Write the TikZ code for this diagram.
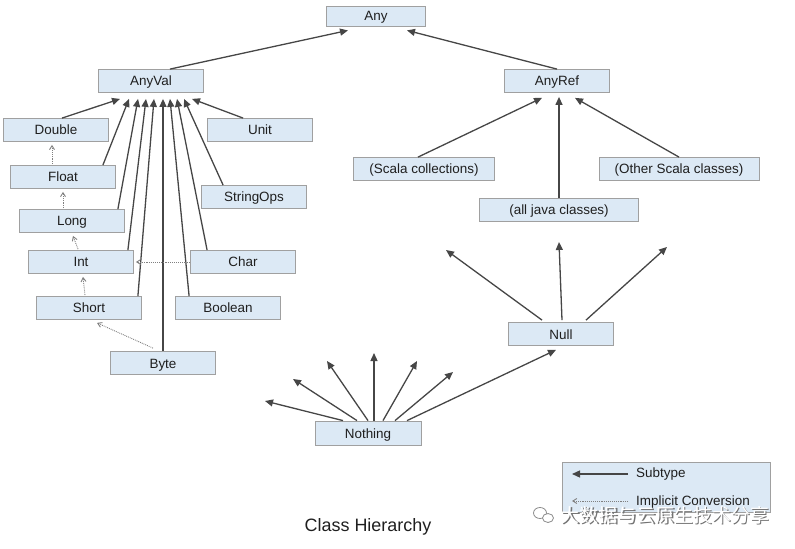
\documentclass[tikz,border=0pt]{standalone}
\usepackage{fontspec}
\setmainfont{Liberation Sans}
\newfontfamily\cjkfont{Noto Sans CJK SC}
\usetikzlibrary{arrows.meta,calc}
\definecolor{boxfill}{RGB}{220,233,245}
\definecolor{boxline}{RGB}{160,160,160}
\definecolor{arrowcol}{RGB}{70,70,70}
\tikzset{
  cls/.style={draw=boxline, fill=boxfill, line width=0.8bp, inner sep=0pt,
    minimum width=105bp, minimum height=23bp, text height=10bp, text depth=0bp,
    font=\fontsize{13.5}{14}\selectfont, text=black!88},
  sub/.style={draw=arrowcol, line width=1.3bp, -{Triangle[length=8bp,width=7bp]}},
  impl/.style={draw=gray, line width=0.9bp, densely dotted, -{Straight Barb[length=4bp,width=5bp]}},
}
\begin{document}
\begin{tikzpicture}[x=1bp,y=-1bp]
\useasboundingbox (0,0) rectangle (795,549);
% nodes
\node[cls,minimum width=99bp,minimum height=20bp] (Any) at (376,16) {Any};
\node[cls] (AnyVal) at (151,81) {AnyVal};
\node[cls] (AnyRef) at (557,81) {AnyRef};
\node[cls] (Double) at (56,130) {Double};
\node[cls] (Unit) at (260,130) {Unit};
\node[cls] (Float) at (63,177) {Float};
\node[cls] (StringOps) at (254,197) {StringOps};
\node[cls] (Long) at (72,221) {Long};
\node[cls] (Int) at (81,262) {Int};
\node[cls] (Char) at (243,262) {Char};
\node[cls] (Short) at (89,308) {Short};
\node[cls] (Boolean) at (228,308) {Boolean};
\node[cls] (Byte) at (163,363) {Byte};
\node[cls,minimum width=141bp] (Coll) at (424,169) {(Scala collections)};
\node[cls,minimum width=160bp] (Other) at (679,169) {(Other Scala classes)};
\node[cls,minimum width=159bp] (Java) at (559,210) {(all java classes)};
\node[cls] (Null) at (561,334) {Null};
\node[cls,minimum width=106bp,minimum height=24bp] (Nothing) at (368,433) {Nothing};
% Any
\draw[sub] ($(AnyVal.north)+(19,0)$) -- ($(Any.south)+(-28,4)$);
\draw[sub] (AnyRef.north) -- ($(Any.south)+(31,4)$);
% AnyVal subtypes
\draw[sub] ($(Double.north)+(6,0)$) -- ($(AnyVal.south)+(-31,6)$);
\draw[sub] ($(Float.north east)+(-13,0)$) -- ($(AnyVal.south)+(-22,6)$);
\draw[sub] ($(Long.north east)+(-7,0)$) -- ($(AnyVal.south)+(-13,6)$);
\draw[sub] ($(Int.north east)+(-6,0)$) -- ($(AnyVal.south)+(-5,6)$);
\draw[sub] ($(Short.north east)+(-4,0)$) -- ($(AnyVal.south)+(3,6)$);
\draw[sub] (Byte.north) -- ($(AnyVal.south)+(12,6)$);
\draw[sub] ($(Boolean.north west)+(14,0)$) -- ($(AnyVal.south)+(19,6)$);
\draw[sub] ($(Char.north west)+(17,0)$) -- ($(AnyVal.south)+(26,6)$);
\draw[sub] ($(StringOps.north west)+(22,0)$) -- ($(AnyVal.south)+(33,6)$);
\draw[sub] ($(Unit.north west)+(36,0)$) -- ($(AnyVal.south)+(41,6)$);
% implicit conversions
\draw[impl] ($(Float.north)+(-11,-1)$) -- ($(Double.south)+(-4,3)$);
\draw[impl] ($(Long.north)+(-9,-1)$) -- ($(Float.south)+(0,3)$);
\draw[impl] ($(Int.north)+(-3,-1)$) -- ($(Long.south)+(1,3)$);
\draw[impl] ($(Short.north)+(-4,-1)$) -- ($(Int.south)+(2,3)$);
\draw[impl] (Char.west) -- ($(Int.east)+(2,0)$);
\draw[impl] ($(Byte.north)+(-10,-3)$) -- ($(Short.south)+(8,3)$);
% AnyRef subtypes
\draw[sub] ($(Coll.north)+(-6,0)$) -- ($(AnyRef.south)+(-15,5)$);
\draw[sub] (Java.north) -- ($(AnyRef.south)+(2,4)$);
\draw[sub] (Other.north) -- ($(AnyRef.south)+(18,5)$);
% Null
\coordinate (n1) at (446,250);
\coordinate (n2) at (559,242);
\coordinate (n3) at (667,247);
\draw[sub] ($(Null.north)+(-19,-2)$) -- (n1);
\draw[sub] ($(Null.north)+(1,-2)$) -- (n2);
\draw[sub] ($(Null.north)+(25,-2)$) -- (n3);
% Nothing
\coordinate (t1) at (265,401);
\coordinate (t2) at (293,379);
\coordinate (t3) at (327,361);
\coordinate (t4) at (374,353);
\coordinate (t5) at (417,361);
\coordinate (t6) at (453,372);
\draw[sub] ($(Nothing.north)+(-25,0)$) -- (t1);
\draw[sub] ($(Nothing.north)+(-11,0)$) -- (t2);
\draw[sub] ($(Nothing.north)+(0,0)$) -- (t3);
\draw[sub] ($(Nothing.north)+(6,0)$) -- (t4);
\draw[sub] ($(Nothing.north)+(15,0)$) -- (t5);
\draw[sub] ($(Nothing.north)+(27,0)$) -- (t6);
\draw[sub] ($(Nothing.north)+(39,0)$) -- ($(Null.south)+(-5,4)$);
% legend
\node[draw=boxline, fill=boxfill, line width=0.8bp, minimum width=208bp, minimum height=50bp, inner sep=0pt] (Legend) at (666,487) {};
\coordinate (l1a) at (628,474);
\coordinate (l1b) at (572,474);
\coordinate (l2a) at (628,501);
\coordinate (l2b) at (572,501);
\draw[sub] (l1a) -- (l1b);
\draw[impl] (l2a) -- (l2b);
\node[anchor=west, inner sep=0pt, font=\fontsize{13.5}{14}\selectfont, text=black!88] (lt1) at (636,474) {Subtype};
\node[anchor=west, inner sep=0pt, font=\fontsize{13.5}{14}\selectfont, text=black!88] (lt2) at (636,502) {Implicit Conversion};
% title
\node[font=\fontsize{18}{20}\selectfont, text=black!88] (title) at (368,527) {Class Hierarchy};
% watermark
\node[font=\cjkfont\fontsize{19}{20}\selectfont, text=black!55] (wms) at (666.5,516.5) {大数据与云原生技术分享};
\node[font=\cjkfont\fontsize{19}{20}\selectfont, text=white] (wm) at (665,515) {大数据与云原生技术分享};
\draw[black!45, fill=white, line width=0.8bp] (540,513) ellipse (6.5bp and 5.5bp);
\draw[black!45, fill=white, line width=0.8bp] (548,518) ellipse (5.5bp and 4.5bp);
\end{tikzpicture}
\end{document}
